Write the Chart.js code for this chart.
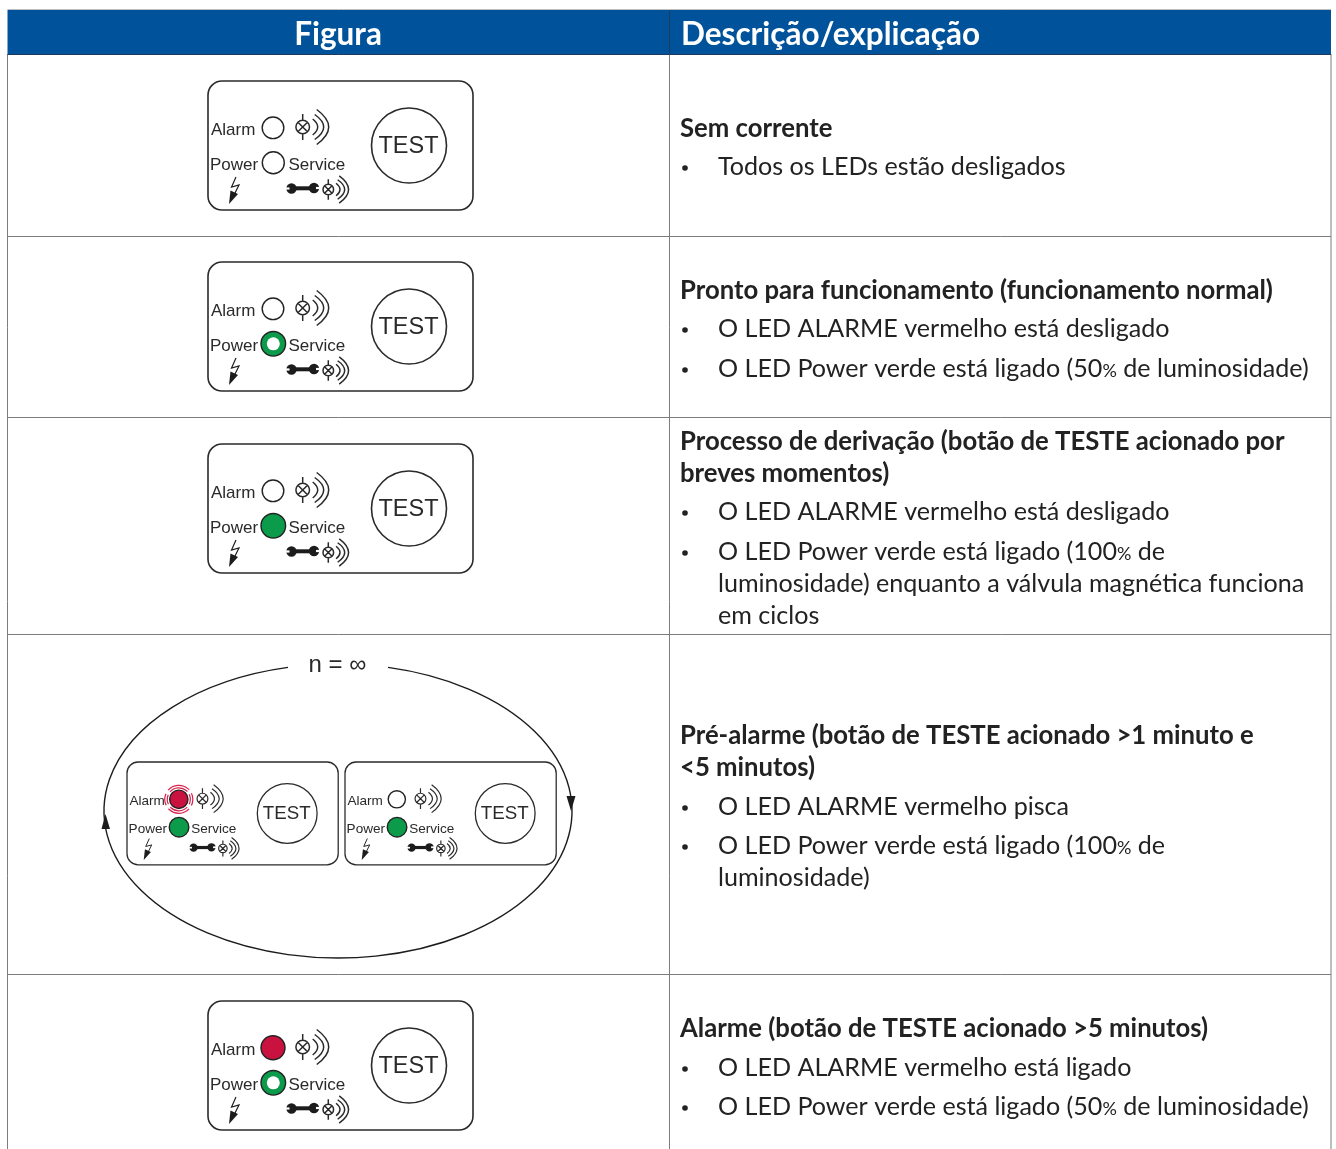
<!DOCTYPE html>
<html>
<head>
<meta charset="utf-8">
<style>html,body{margin:0;padding:0;background:#fff}canvas{display:block}</style>
<script src="https://cdn.jsdelivr.net/npm/chart.js@4"></script>
</head>
<body>
<canvas id="chart" width="1336" height="1149"></canvas>
<script>
const headers = ['Figura', 'Descrição/explicação'];
const titleLines = [
    ['Sem corrente'],
    ['Pronto para funcionamento (funcionamento normal)'],
    ['Processo de derivação (botão de TESTE acionado por', 'breves momentos)'],
    ['Pré-alarme (botão de TESTE acionado >1 minuto e', '<5 minutos)'],
    ['Alarme (botão de TESTE acionado >5 minutos)']
];
const bulletLines = [
    [['Todos os LEDs estão desligados']],
    [['O LED ALARME vermelho está desligado'], ['O LED Power verde está ligado (50% de luminosidade)']],
    [['O LED ALARME vermelho está desligado'], ['O LED Power verde está ligado (100% de', 'luminosidade) enquanto a válvula magnética funciona', 'em ciclos']],
    [['O LED ALARME vermelho pisca'], ['O LED Power verde está ligado (100% de', 'luminosidade)']],
    [['O LED ALARME vermelho está ligado'], ['O LED Power verde está ligado (50% de luminosidade)']]
];
const alarmLed = ['off', 'off', 'off', 'blink', 'off', 'on'];
const powerLed = ['off', 'dim', 'full', 'full', 'full', 'dim'];
const loopLabel = 'n = ∞';

// page layout
const W = 1336, H = 1149;
const tableLeft = 7.5, tableRight = 1331, midLine = 669.5;
const rowLines = [54.5, 236.5, 417.5, 634.5, 974.5];
const titleBase = [[136.5], [298.5], [449.5, 481.5], [743.5, 775.5], [1036.5]];
const bulletBase = [[[175]], [[337], [377]], [[520], [560, 592, 624]], [[815], [854, 886]], [[1076], [1115]]];
const panels = [[208, 81, 1], [208, 262, 1], [208, 444, 1], [127, 762, 0.797], [345, 762, 0.797], [208, 1001, 1]];
const textFont = 'Lato';
const inkColor = '#2a2a2a', gridColor = '#7d7d7d', blue = '#00539b';
const green = '#0c9a4b', red = '#c9123f';

const ledPoints = [], ledFill = [], ledRadius = [], corePoints = [];
panels.forEach((p, i) => {
    const [ox, oy, s] = p;
    const alarm = alarmLed[i], power = powerLed[i];
    ledPoints.push({ x: ox + 65 * s, y: oy + 46.8 * s });
    ledFill.push(alarm === 'off' ? '#fff' : red);
    ledRadius.push((alarm === 'off' ? 10.8 : alarm === 'blink' ? 11.5 : 12) * s);
    ledPoints.push({ x: ox + 65.3 * s, y: oy + 81.8 * s });
    ledFill.push(power === 'off' ? '#fff' : green);
    ledRadius.push((power === 'off' ? 11 : 12.3) * s);
    if (power === 'dim') corePoints.push({ x: ox + 65.3 * s, y: oy + 81.8 * s });
});

function lamp(ctx, cx, cy, k) {
    ctx.beginPath();
    ctx.arc(cx, cy, 6.8 * k, 0, Math.PI * 2);
    ctx.moveTo(cx, cy - 13 * k); ctx.lineTo(cx, cy - 6.8 * k);
    ctx.moveTo(cx, cy + 6.8 * k); ctx.lineTo(cx, cy + 13 * k);
    const d = 6.8 * k * Math.SQRT1_2;
    ctx.moveTo(cx - d, cy - d); ctx.lineTo(cx + d, cy + d);
    ctx.moveTo(cx - d, cy + d); ctx.lineTo(cx + d, cy - d);
    // sound waves
    [[10, 15, 8], [12, 21, 12.5], [14, 26, 17.5]].forEach(a => {
        ctx.moveTo(cx + a[0] * k, cy - a[2] * k);
        ctx.quadraticCurveTo(cx + (2 * a[1] - a[0]) * k, cy, cx + a[0] * k, cy + a[2] * k);
    });
    ctx.stroke();
}

function wrench(ctx) {
    ctx.fillStyle = '#1c1c1c';
    ctx.fillRect(83, 105.3, 23, 4);
    ctx.beginPath();
    ctx.arc(83.5, 107.5, 5.2, 0, Math.PI * 2);
    ctx.arc(106, 107, 5.2, 0, Math.PI * 2);
    ctx.fill();
    ctx.fillStyle = '#fff';
    ctx.fillRect(77.5, 106.4, 4, 2.2);
    ctx.fillRect(108, 105.9, 4, 2.2);
}

function bolt(ctx) {
    ctx.beginPath();
    ctx.moveTo(28, 96); ctx.lineTo(23.5, 106); ctx.lineTo(31, 104); ctx.lineTo(26.5, 113);
    ctx.stroke();
    ctx.fillStyle = '#1c1c1c';
    ctx.beginPath();
    ctx.moveTo(21, 123); ctx.lineTo(22.5, 109.5); ctx.lineTo(30, 113);
    ctx.closePath();
    ctx.fill();
}

function panel(ctx, px, py, s) {
    ctx.save();
    ctx.translate(px, py);
    ctx.scale(s, s);
    ctx.strokeStyle = inkColor;
    ctx.lineWidth = 1.6;
    ctx.beginPath();
    ctx.roundRect(0, 0, 265, 129, 14);
    ctx.stroke();
    ctx.beginPath();
    ctx.arc(201, 64.5, 37.5, 0, Math.PI * 2);
    ctx.stroke();
    ctx.fillStyle = inkColor;
    ctx.font = '17px "Liberation Sans"';
    ctx.textAlign = 'left';
    ctx.textBaseline = 'alphabetic';
    ctx.fillText('Alarm', 3, 54);
    ctx.fillText('Power', 2, 89);
    ctx.fillText('Service', 80.5, 88.5);
    ctx.font = '23.5px "Liberation Sans"';
    ctx.textAlign = 'center';
    ctx.fillText('TEST', 200.5, 72);
    ctx.lineWidth = 1.5;
    lamp(ctx, 94.7, 46, 1);
    lamp(ctx, 120.3, 108.5, 0.78);
    wrench(ctx);
    ctx.strokeStyle = '#1c1c1c';
    ctx.lineWidth = 1.2;
    bolt(ctx);
    ctx.restore();
}

// the percent sign is set smaller in the original
function bulletText(ctx, text, px, py) {
    const parts = text.split('%');
    let cx = px;
    parts.forEach((part, i) => {
        ctx.font = `25.1px ${textFont}`;
        ctx.fillText(part, cx, py);
        cx += ctx.measureText(part).width;
        if (i < parts.length - 1) {
            ctx.font = `18px ${textFont}`;
            ctx.fillText('%', cx, py);
            cx += ctx.measureText('%').width;
        }
    });
}

function drawTable(ctx, sx, sy) {
    const left = sx(tableLeft), right = sx(tableRight), mid = sx(midLine);
    ctx.fillStyle = blue;
    ctx.fillRect(left, sy(10), right - left, sy(54.5) - sy(10));
    ctx.strokeStyle = '#bdbdbd';
    ctx.lineWidth = 1;
    ctx.beginPath(); ctx.moveTo(left, sy(9.5)); ctx.lineTo(right, sy(9.5)); ctx.stroke();

    ctx.strokeStyle = gridColor;
    ctx.beginPath();
    [left, mid, right].forEach(v => { ctx.moveTo(v, sy(54)); ctx.lineTo(v, sy(H)); });
    rowLines.forEach(v => { ctx.moveTo(left, sy(v)); ctx.lineTo(right, sy(v)); });
    ctx.stroke();
    ctx.strokeStyle = '#1f3a5c';
    ctx.beginPath();
    ctx.moveTo(mid, sy(10)); ctx.lineTo(mid, sy(54));
    ctx.moveTo(left, sy(54.5)); ctx.lineTo(right, sy(54.5));
    ctx.stroke();

    ctx.fillStyle = '#fff';
    ctx.textBaseline = 'alphabetic';
    ctx.font = `bold 31.5px ${textFont}`;
    ctx.textAlign = 'center';
    ctx.fillText(headers[0], sx(338), sy(45));
    ctx.textAlign = 'left';
    ctx.fillText(headers[1], sx(681), sy(45));

    ctx.fillStyle = '#222';
    titleLines.forEach((lines, r) => {
        ctx.font = `bold 25.7px ${textFont}`;
        lines.forEach((t, i) => ctx.fillText(t, sx(680), sy(titleBase[r][i])));
        bulletLines[r].forEach((item, b) => {
            const ys = bulletBase[r][b];
            ctx.beginPath();
            ctx.arc(sx(685), sy(ys[0] - 7), 2.8, 0, Math.PI * 2);
            ctx.fill();
            item.forEach((t, i) => bulletText(ctx, t, sx(718), sy(ys[i])));
        });
    });
}

function drawLoop(ctx, sx, sy) {
    const cx = sx(338), cy = sy(811), rx = 234, ry = 147;
    const t = Math.acos(50 / rx);
    ctx.strokeStyle = '#1c1c1c';
    ctx.lineWidth = 1.4;
    ctx.beginPath();
    ctx.ellipse(cx, cy, rx, ry, 0, -t, t - Math.PI, false);
    ctx.stroke();
    ctx.fillStyle = '#1c1c1c';
    ctx.beginPath();
    ctx.moveTo(sx(571), sy(811)); ctx.lineTo(sx(566.5), sy(796)); ctx.lineTo(sx(575.5), sy(796));
    ctx.closePath();
    ctx.moveTo(sx(105.5), sy(814)); ctx.lineTo(sx(101.5), sy(829)); ctx.lineTo(sx(110), sy(829));
    ctx.closePath();
    ctx.fill();
    ctx.fillStyle = inkColor;
    ctx.font = '24px "Liberation Sans"';
    ctx.textAlign = 'center';
    ctx.textBaseline = 'alphabetic';
    ctx.fillText(loopLabel, sx(337.5), sy(672));
}

const tablePlugin = {
    id: 'tablePlugin',
    beforeDatasetsDraw(chart) {
        const ctx = chart.ctx;
        const sx = v => chart.scales.x.getPixelForValue(v);
        const sy = v => chart.scales.y.getPixelForValue(v);
        ctx.save();
        ctx.fillStyle = '#fff';
        ctx.fillRect(0, 0, W, H);
        drawTable(ctx, sx, sy);
        drawLoop(ctx, sx, sy);
        panels.forEach(p => panel(ctx, sx(p[0]), sy(p[1]), p[2]));
        ctx.restore();
    },
    afterDatasetsDraw(chart) {
        // flashing rings round the alarm LED
        const ctx = chart.ctx;
        const meta = chart.getDatasetMeta(0).data;
        ctx.save();
        ctx.strokeStyle = '#d8204c';
        ctx.lineWidth = 1.2;
        alarmLed.forEach((state, i) => {
            if (state !== 'blink') return;
            const pt = meta[i * 2];
            [11.5, 14].forEach(r => {
                [[-0.45, 0.45], [0.75, 2.4], [2.7, 3.55], [3.85, 5.55]].forEach(a => {
                    ctx.beginPath();
                    ctx.arc(pt.x, pt.y, r, a[0], a[1]);
                    ctx.stroke();
                });
            });
        });
        ctx.restore();
    }
};

new Chart(document.getElementById('chart'), {
    type: 'scatter',
    data: {
        datasets: [
            { label: 'LED', data: ledPoints, pointBackgroundColor: ledFill, pointRadius: ledRadius, pointBorderColor: '#222', pointBorderWidth: 1.4, order: 2 },
            { label: 'LED dim core', data: corePoints, pointBackgroundColor: '#fff', pointRadius: 6.5, pointBorderWidth: 0, order: 1 }
        ]
    },
    options: {
        responsive: false,
        animation: false,
        layout: { padding: 0, autoPadding: false },
        plugins: { legend: { display: false }, tooltip: { enabled: false } },
        scales: {
            x: { type: 'linear', min: 0, max: W, display: false },
            y: { type: 'linear', min: 0, max: H, reverse: true, display: false }
        }
    },
    plugins: [tablePlugin]
});
</script>
</body>
</html>
